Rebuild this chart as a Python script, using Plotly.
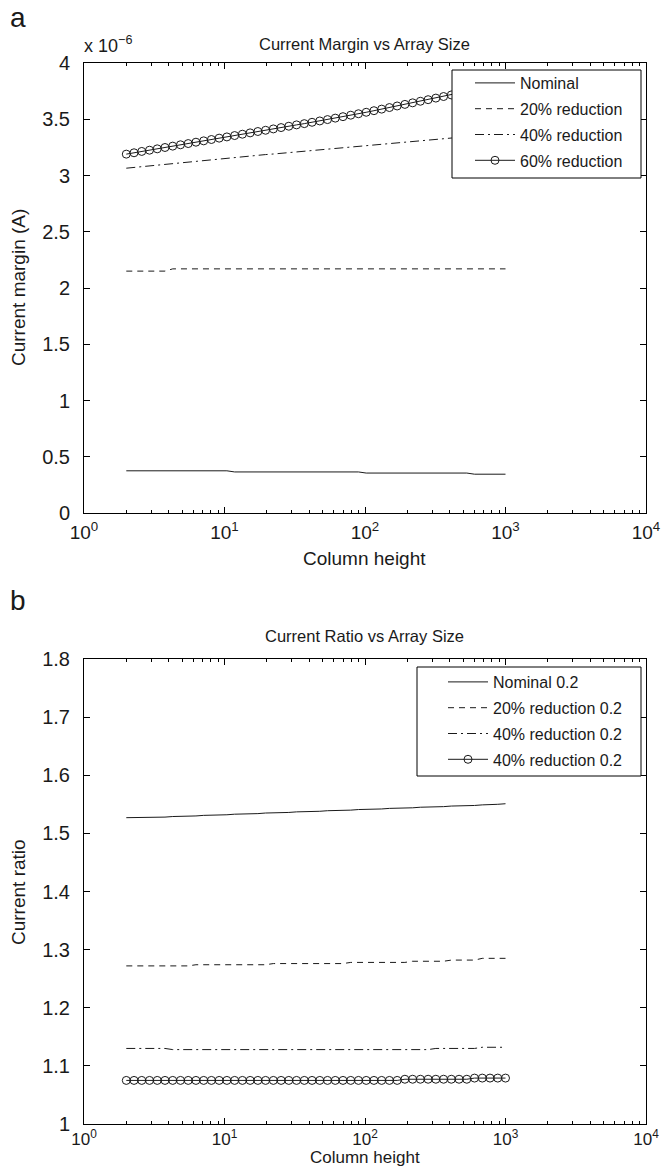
import plotly.graph_objects as go

# ---------------- data ----------------
column_height = [2.000, 2.270, 2.577, 2.926, 3.321, 3.771, 4.281, 4.860, 5.517, 6.263,
                 7.110, 8.071, 9.162, 10.40, 11.81, 13.41, 15.22, 17.28, 19.61, 22.27,
                 25.28, 28.69, 32.57, 36.98, 41.98, 47.65, 54.10, 61.41, 69.71, 79.14,
                 89.84, 102.0, 115.8, 131.4, 149.2, 169.4, 192.3, 218.3, 247.8, 281.3,
                 319.3, 362.5, 411.5, 467.1, 530.3, 602.0, 683.4, 775.8, 880.7, 1000.0]

# Current margin, in units of 1e-6 A
margin_nominal = [0.375]*14 + [0.365]*17 + [0.355]*14 + [0.345]*5
margin_20 = [2.150]*6 + [2.170]*44
margin_40 = [3.065, 3.072, 3.079, 3.086, 3.093, 3.100, 3.107, 3.114, 3.122, 3.129,
             3.136, 3.143, 3.150, 3.157, 3.162, 3.168, 3.174, 3.180, 3.186, 3.191,
             3.197, 3.203, 3.209, 3.214, 3.220, 3.226, 3.232, 3.238, 3.243, 3.249,
             3.255, 3.261, 3.267, 3.274, 3.280, 3.287, 3.294, 3.300, 3.307, 3.313,
             3.320, 3.327, 3.333, 3.340, 3.346, 3.353, 3.360, 3.366, 3.373, 3.380]
margin_60 = [3.190, 3.202, 3.214, 3.225, 3.237, 3.249, 3.261, 3.273, 3.284, 3.296,
             3.308, 3.320, 3.332, 3.343, 3.355, 3.367, 3.379, 3.391, 3.402, 3.414,
             3.426, 3.438, 3.450, 3.461, 3.473, 3.485, 3.497, 3.510, 3.523, 3.536,
             3.549, 3.562, 3.576, 3.590, 3.604, 3.618, 3.632, 3.646, 3.660, 3.674,
             3.688, 3.702, 3.716, 3.730, 3.744, 3.760, 3.775, 3.791, 3.806, 3.822]

# Current ratio
ratio_nominal = [1.527, 1.527, 1.527, 1.527, 1.528, 1.528, 1.529, 1.529, 1.530, 1.530,
                 1.531, 1.531, 1.532, 1.532, 1.533, 1.533, 1.534, 1.534, 1.535, 1.535,
                 1.536, 1.536, 1.537, 1.537, 1.538, 1.538, 1.539, 1.539, 1.540, 1.540,
                 1.541, 1.541, 1.542, 1.542, 1.543, 1.543, 1.544, 1.544, 1.545, 1.545,
                 1.546, 1.546, 1.547, 1.547, 1.548, 1.548, 1.549, 1.549, 1.550, 1.551]
ratio_20 = [1.272]*9 + [1.274]*10 + [1.276]*10 + [1.278]*8 + [1.280]*5 + [1.282]*4 + [1.285]*4
ratio_40 = [1.130]*6 + [1.128]*34 + [1.130]*6 + [1.132]*4
ratio_40b = [1.075]*36 + [1.077]*9 + [1.079]*5

x_tickvals = [1, 10, 100, 1000, 10000]
x_ticktext = ["10<sup>0</sup>", "10<sup>1</sup>", "10<sup>2</sup>", "10<sup>3</sup>", "10<sup>4</sup>"]

legend_top = ["Nominal", "20% reduction", "40% reduction", "60% reduction"]
legend_bot = ["Nominal 0.2", "20% reduction 0.2", "40% reduction 0.2", "40% reduction 0.2"]

# ---------------- figure ----------------
W, H = 661, 1168
INK = "#1a1a1a"
FONT = "Liberation Sans, Arial, Helvetica, sans-serif"

fig = go.Figure()

styles = [
    dict(mode="lines", line=dict(color=INK, width=1, dash="solid")),
    dict(mode="lines", line=dict(color=INK, width=1, dash="6px,5px")),
    dict(mode="lines", line=dict(color=INK, width=1, dash="9px,4px,2px,4px")),
    dict(mode="lines+markers", line=dict(color=INK, width=1, dash="solid"),
         marker=dict(symbol="circle-open", size=8, color=INK, line=dict(width=1, color=INK))),
]

top_series = [margin_nominal, margin_20, margin_40, margin_60]
for k, (ys, name) in enumerate(zip(top_series, legend_top)):
    fig.add_trace(go.Scatter(x=column_height, y=ys, name=name, xaxis="x", yaxis="y",
                             legend="legend", legendgroup=f"t{k}", **styles[k]))

bot_series = [ratio_nominal, ratio_20, ratio_40, ratio_40b]
for k, (ys, name) in enumerate(zip(bot_series, legend_bot)):
    fig.add_trace(go.Scatter(x=column_height, y=ys, name=name, xaxis="x2", yaxis="y2",
                             legend="legend2", legendgroup=f"b{k}", **styles[k]))

def px_x(p):
    return p / W

def px_y(p):
    return 1 - p / H

xdom = [px_x(84), px_x(646)]
top_dom = [px_y(513), px_y(63)]
bot_dom = [px_y(1124), px_y(659)]

common_x = dict(type="log", range=[0, 4], tickvals=x_tickvals, ticktext=x_ticktext,
                ticks="inside", ticklen=6, tickcolor="black", showline=True, linecolor="black",
                linewidth=1, mirror="ticks", showgrid=False, zeroline=False, automargin=False,
                minor=dict(ticks="inside", ticklen=3, tickcolor="black", dtick="D1", showgrid=False),
                domain=xdom)
common_y = dict(ticks="inside", ticklen=6, tickcolor="black", showline=True, linecolor="black",
                linewidth=1, mirror="ticks", showgrid=False, zeroline=False, automargin=False,
                ticklabelstandoff=9,
                tickfont=dict(size=20, color=INK, family=FONT))

leg_common = dict(xanchor="left", yanchor="top", bgcolor="rgba(0,0,0,0)", borderwidth=0,
                  font=dict(size=16, color=INK, family=FONT), itemwidth=40,
                  traceorder="grouped", tracegroupgap=2)

fig.update_layout(
    width=W, height=H,
    margin=dict(l=0, r=0, t=0, b=0, autoexpand=False),
    paper_bgcolor="white", plot_bgcolor="white",
    font=dict(family=FONT, color=INK, size=15),
    xaxis=dict(anchor="y", ticklabelstandoff=2,
               tickfont=dict(size=19, color=INK, family=FONT), **common_x),
    yaxis=dict(anchor="x", domain=top_dom, range=[0, 4], dtick=0.5, **common_y),
    xaxis2=dict(anchor="y2", ticklabelstandoff=0,
                tickfont=dict(size=17, color=INK, family=FONT), **common_x),
    yaxis2=dict(anchor="x2", domain=bot_dom, range=[1, 1.8], dtick=0.1, **common_y),
    legend=dict(x=px_x(470), y=px_y(66), **leg_common),
    legend2=dict(x=px_x(443), y=px_y(665), **leg_common),
    showlegend=True,
)

# legend frames (white boxes covering the curves, as in the original)
shapes = [
    dict(type="rect", xref="paper", yref="paper", x0=px_x(452), x1=px_x(641),
         y0=px_y(178), y1=px_y(70), fillcolor="white", line=dict(color="black", width=1),
         layer="above"),
    dict(type="rect", xref="paper", yref="paper", x0=px_x(417), x1=px_x(641),
         y0=px_y(776), y1=px_y(667), fillcolor="white", line=dict(color="black", width=1),
         layer="above"),
]
fig.update_layout(shapes=shapes)

ann = [
    dict(text="a", x=px_x(8), y=px_y(17), xanchor="left", yanchor="middle", font=dict(size=28)),
    dict(text="b", x=px_x(8), y=px_y(600), xanchor="left", yanchor="middle", font=dict(size=28)),
    dict(text="x 10<sup>\u22126</sup>", x=px_x(82), y=px_y(44), xanchor="left", yanchor="middle",
         font=dict(size=18)),
    dict(text="Current Margin vs Array Size", x=px_x(365), y=px_y(44), xanchor="center",
         yanchor="middle", font=dict(size=16.5)),
    dict(text="Current Ratio vs Array Size", x=px_x(365), y=px_y(636), xanchor="center",
         yanchor="middle", font=dict(size=16.5)),
    dict(text="Column height", x=px_x(365), y=px_y(558), xanchor="center", yanchor="middle",
         font=dict(size=19)),
    dict(text="Column height", x=px_x(365), y=px_y(1169), xanchor="center", yanchor="bottom",
         font=dict(size=17)),
    dict(text="Current margin (A)", x=px_x(18), y=px_y(288), xanchor="center", yanchor="middle",
         textangle=-90, font=dict(size=19)),
    dict(text="Current ratio", x=px_x(18), y=px_y(892), xanchor="center", yanchor="middle",
         textangle=-90, font=dict(size=19)),
]
for a in ann:
    a.update(xref="paper", yref="paper", showarrow=False)
fig.update_layout(annotations=ann)

fig.write_html("out.html")
